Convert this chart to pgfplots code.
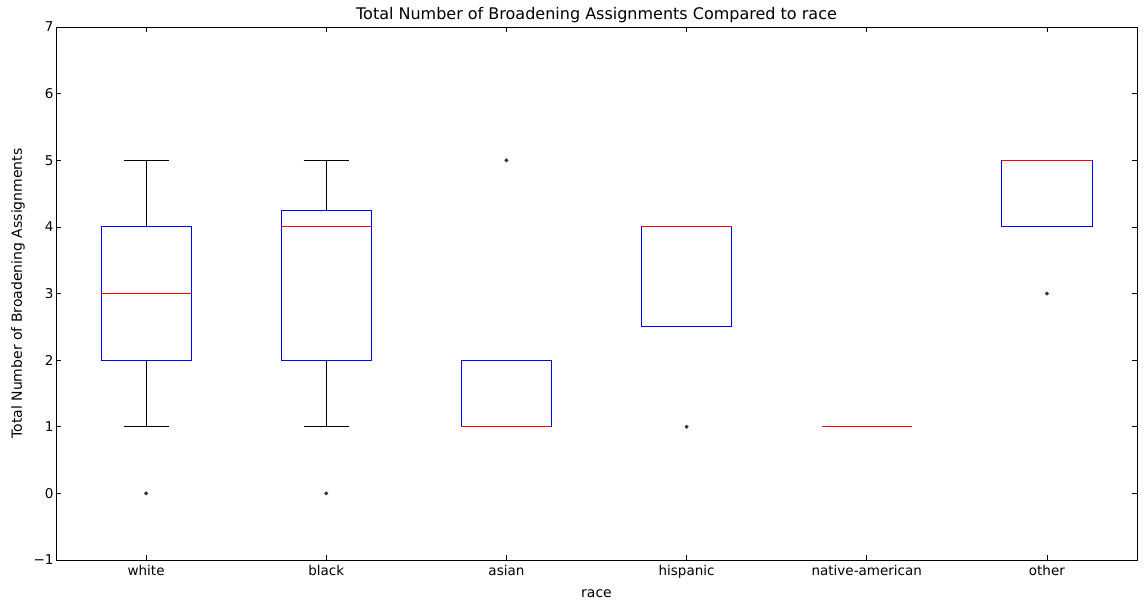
\documentclass[border=0pt]{standalone}
\usepackage{pgfplots}
\pgfplotsset{compat=1.18}
\usepackage{fontspec}
\setmainfont{DejaVu Sans}
\begin{document}
\begin{tikzpicture}
\begin{axis}[
  scale only axis,
  width=1081bp, height=533bp,
  xmin=0.5, xmax=6.5, ymin=-1, ymax=7,
  xtick={1,2,3,4,5,6},
  xticklabels={white,black,asian,hispanic,native-american,other},
  ytick={-1,0,1,2,3,4,5,6,7},
  yticklabels={−1,0,1,2,3,4,5,6,7},
  tick align=inside,
  major tick length=5bp,
  tick style={black, line width=0.6bp},
  axis line style={black, line width=0.8bp},
  /pgf/number format/assume math mode=true,
  tick label style={font=\fontsize{13.5bp}{15bp}\selectfont},
  label style={font=\fontsize{14bp}{16bp}\selectfont},
  title style={font=\fontsize{16bp}{18bp}\selectfont, yshift=-5bp},
  title={Total Number of Broadening Assignments Compared to race},
  xlabel={race},
  ylabel={Total Number of Broadening Assignments},
  xticklabel style={yshift=-2bp},
  xlabel style={yshift=-4bp},
  ylabel style={yshift=2bp},
  yticklabel style={xshift=1bp},
  clip=false,
]
% ---- whiskers (black) ----
\addplot[black, line width=0.9bp] coordinates {(1,2) (1,1)};
\addplot[black, line width=0.9bp] coordinates {(1,4) (1,5)};
\addplot[black, line width=0.9bp] coordinates {(0.875,1) (1.125,1)};
\addplot[black, line width=0.9bp] coordinates {(0.875,5) (1.125,5)};
\addplot[black, line width=0.9bp] coordinates {(2,2) (2,1)};
\addplot[black, line width=0.9bp] coordinates {(2,4.25) (2,5)};
\addplot[black, line width=0.9bp] coordinates {(1.875,1) (2.125,1)};
\addplot[black, line width=0.9bp] coordinates {(1.875,5) (2.125,5)};
% ---- boxes (blue) ----
\addplot[blue, line width=0.9bp] coordinates {(0.75,2) (1.25,2) (1.25,4) (0.75,4) (0.75,2)};
\addplot[blue, line width=0.9bp] coordinates {(1.75,2) (2.25,2) (2.25,4.25) (1.75,4.25) (1.75,2)};
\addplot[blue, line width=0.9bp] coordinates {(2.75,1) (3.25,1) (3.25,2) (2.75,2) (2.75,1)};
\addplot[blue, line width=0.9bp] coordinates {(3.75,2.5) (4.25,2.5) (4.25,4) (3.75,4) (3.75,2.5)};
\addplot[blue, line width=0.9bp] coordinates {(4.75,1) (5.25,1) (5.25,1) (4.75,1) (4.75,1)};
\addplot[blue, line width=0.9bp] coordinates {(5.75,4) (6.25,4) (6.25,5) (5.75,5) (5.75,4)};
% ---- medians (red) ----
\addplot[red, line width=1.1bp] coordinates {(0.75,3) (1.25,3)};
\addplot[red, line width=1.1bp] coordinates {(1.75,4) (2.25,4)};
\addplot[red, line width=1.1bp] coordinates {(2.75,1) (3.25,1)};
\addplot[red, line width=1.1bp] coordinates {(3.75,4) (4.25,4)};
\addplot[red, line width=1.1bp] coordinates {(4.75,1) (5.25,1)};
\addplot[red, line width=1.1bp] coordinates {(5.75,5) (6.25,5)};
% ---- outliers ----
\addplot[only marks, mark=*, mark size=1.8bp, black!80, mark options={draw=black!80, fill=black!80}]
  coordinates {(1,0) (2,0) (3,5) (4,1) (6,3)};
\end{axis}
\path (current axis.south west) ++(-56bp,-42bp);
\path (current axis.north east) ++(9bp,27bp);
\end{tikzpicture}
\end{document}
